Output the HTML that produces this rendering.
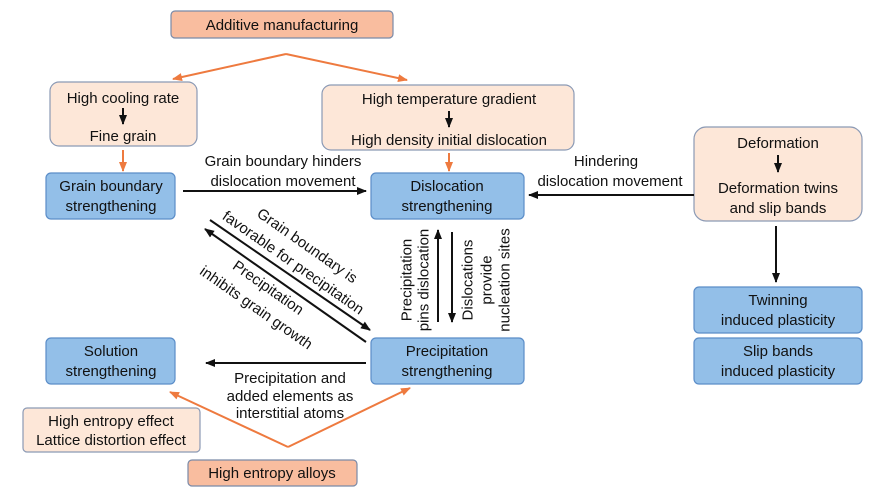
<!DOCTYPE html>
<html><head><meta charset="utf-8"><style>
html,body{margin:0;padding:0;background:#fff;}
svg{display:block;font-family:"Liberation Sans",Arial,sans-serif;}
text{font-size:15px;fill:#111;}
</style></head><body>
<svg width="888" height="502" viewBox="0 0 888 502" xmlns="http://www.w3.org/2000/svg">
<defs>
<marker id="ab" markerWidth="10" markerHeight="10" refX="9" refY="5" orient="auto" markerUnits="userSpaceOnUse"><path d="M0,1 L10,5 L0,9 Z" fill="#111"/></marker>
<marker id="ao" markerWidth="10" markerHeight="10" refX="9" refY="5" orient="auto" markerUnits="userSpaceOnUse"><path d="M0,1 L10,5 L0,9 Z" fill="#ee7a3f"/></marker>
</defs>
<g stroke-width="1.2">
<rect x="171" y="11" width="222" height="27" rx="4" fill="#f9bd9f" stroke="#7a8aa8"/>
<rect x="50" y="82" width="147" height="64" rx="9" fill="#fde7d8" stroke="#8b9ab5"/>
<rect x="322" y="85" width="252" height="65" rx="9" fill="#fde7d8" stroke="#8b9ab5"/>
<rect x="694" y="127" width="168" height="94" rx="12" fill="#fde7d8" stroke="#8b9ab5"/>
<rect x="46" y="173" width="129" height="46" rx="5" fill="#93bfe8" stroke="#5b8dc8"/>
<rect x="371" y="173" width="153" height="46" rx="5" fill="#93bfe8" stroke="#5b8dc8"/>
<rect x="694" y="287" width="168" height="46" rx="5" fill="#93bfe8" stroke="#5b8dc8"/>
<rect x="694" y="338" width="168" height="46" rx="5" fill="#93bfe8" stroke="#5b8dc8"/>
<rect x="46" y="338" width="129" height="46" rx="5" fill="#93bfe8" stroke="#5b8dc8"/>
<rect x="371" y="338" width="153" height="46" rx="5" fill="#93bfe8" stroke="#5b8dc8"/>
<rect x="23" y="408" width="177" height="44" rx="4" fill="#fde7d8" stroke="#8b9ab5"/>
<rect x="188" y="460" width="169" height="26" rx="4" fill="#f9bd9f" stroke="#7a8aa8"/>
</g>
<g stroke="#ee7a3f" stroke-width="2" fill="none">
<line x1="286" y1="54" x2="173" y2="79" marker-end="url(#ao)"/>
<line x1="286" y1="54" x2="407" y2="80" marker-end="url(#ao)"/>
<line x1="123" y1="150" x2="123" y2="171" marker-end="url(#ao)"/>
<line x1="449" y1="153" x2="449" y2="171" marker-end="url(#ao)"/>
<line x1="288" y1="447" x2="170" y2="392" marker-end="url(#ao)"/>
<line x1="288" y1="447" x2="410" y2="388" marker-end="url(#ao)"/>
</g>
<g stroke="#111" stroke-width="2" fill="none">
<line x1="123" y1="108" x2="123" y2="124" marker-end="url(#ab)"/>
<line x1="449" y1="111" x2="449" y2="127" marker-end="url(#ab)"/>
<line x1="778" y1="155" x2="778" y2="172" marker-end="url(#ab)"/>
<line x1="183" y1="191" x2="366" y2="191" marker-end="url(#ab)"/>
<line x1="694" y1="195" x2="529" y2="195" marker-end="url(#ab)"/>
<line x1="776" y1="226" x2="776" y2="282" marker-end="url(#ab)"/>
<line x1="210" y1="220" x2="370" y2="330" marker-end="url(#ab)"/>
<line x1="366" y1="342" x2="205" y2="229" marker-end="url(#ab)"/>
<line x1="438" y1="322" x2="438" y2="230" marker-end="url(#ab)"/>
<line x1="452" y1="232" x2="452" y2="322" marker-end="url(#ab)"/>
<line x1="366" y1="363" x2="206" y2="363" marker-end="url(#ab)"/>
</g>
<g text-anchor="middle">
<text x="282" y="30">Additive manufacturing</text>
<text x="123" y="103">High cooling rate</text>
<text x="123" y="141">Fine grain</text>
<text x="449" y="104">High temperature gradient</text>
<text x="449" y="145">High density initial dislocation</text>
<text x="778" y="148">Deformation</text>
<text x="778" y="193">Deformation twins</text>
<text x="778" y="213">and slip bands</text>
<text x="111" y="191">Grain boundary</text>
<text x="111" y="211">strengthening</text>
<text x="447" y="191">Dislocation</text>
<text x="447" y="211">strengthening</text>
<text x="778" y="305">Twinning</text>
<text x="778" y="325">induced plasticity</text>
<text x="778" y="356">Slip bands</text>
<text x="778" y="376">induced plasticity</text>
<text x="111" y="356">Solution</text>
<text x="111" y="376">strengthening</text>
<text x="447" y="356">Precipitation</text>
<text x="447" y="376">strengthening</text>
<text x="111" y="426">High entropy effect</text>
<text x="111" y="445">Lattice distortion effect</text>
<text x="272" y="478">High entropy alloys</text>
<text x="283" y="166">Grain boundary hinders</text>
<text x="283" y="186">dislocation movement</text>
<text x="606" y="166">Hindering</text>
<text x="610" y="186">dislocation movement</text>
<text x="290" y="383">Precipitation and</text>
<text x="290" y="401">added elements as</text>
<text x="290" y="418">interstitial atoms</text>
<g dominant-baseline="central">
<text transform="translate(307,246) rotate(35)">Grain boundary is</text>
<text transform="translate(293,263) rotate(35)">favorable for precipitation</text>
<text transform="translate(268,288) rotate(35)">Precipitation</text>
<text transform="translate(256,308) rotate(35)">inhibits grain growth</text>
<text transform="translate(407,280) rotate(-90)">Precipitation</text>
<text transform="translate(424,280) rotate(-90)">pins dislocation</text>
<text transform="translate(468,280) rotate(-90)">Dislocations</text>
<text transform="translate(487,280) rotate(-90)">provide</text>
<text transform="translate(505,280) rotate(-90)">nucleation sites</text>
</g>
</g>
</svg>
</body></html>
